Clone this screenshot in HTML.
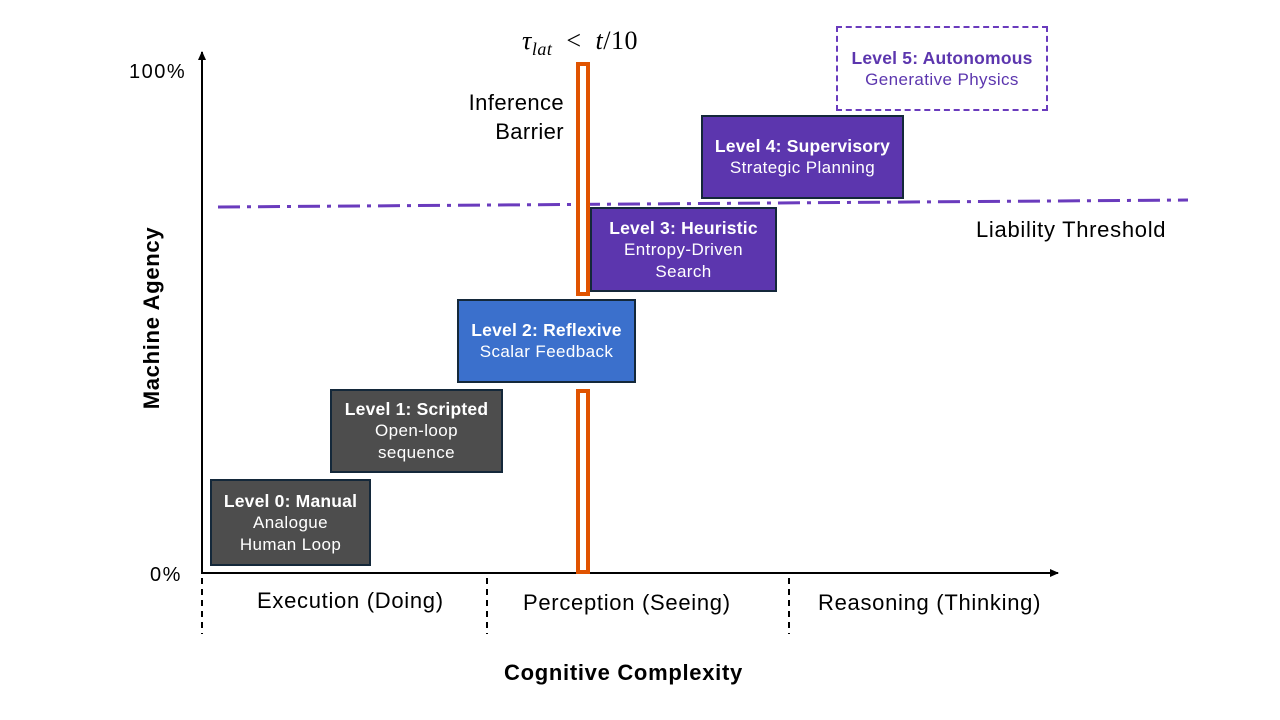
<!DOCTYPE html>
<html><head><meta charset="utf-8"><style>
body{margin:0;width:1280px;height:720px;background:#fff;position:relative;overflow:hidden;font-family:"Liberation Sans",Arial,sans-serif}
.b{position:absolute;box-sizing:border-box;border:2px solid #14283a;color:#fff;text-align:center;font-size:17px;line-height:22px;letter-spacing:0.4px;display:flex;flex-direction:column;justify-content:center;white-space:nowrap}
.b b{font-size:17.5px;letter-spacing:0.2px}
.t{position:absolute;font-size:22px;letter-spacing:0.7px;color:#000;white-space:nowrap}
</style></head><body>
<svg width="1280" height="720" style="position:absolute;left:0;top:0">
<defs><marker id="a" markerWidth="10" markerHeight="10" refX="8" refY="5" orient="auto" markerUnits="userSpaceOnUse"><path d="M0,1 L9,5 L0,9 Z" fill="#000"/></marker></defs>
<line x1="202" y1="574" x2="202" y2="52" stroke="#000" stroke-width="2" marker-end="url(#a)"/>
<line x1="201" y1="573" x2="1058" y2="573" stroke="#000" stroke-width="2" marker-end="url(#a)"/>
<g stroke="#000" stroke-width="2" stroke-dasharray="6,5">
<line x1="202" y1="578" x2="202" y2="634"/><line x1="487" y1="578" x2="487" y2="634"/><line x1="789" y1="578" x2="789" y2="634"/></g>
<line x1="218" y1="207" x2="1188" y2="200" stroke="#6a3bbd" stroke-width="3" stroke-dasharray="22,7,4,7"/>
</svg>
<div class="b" style="left:210px;top:479px;width:161px;height:87px;background:#4d4d4d"><b>Level 0: Manual</b>Analogue<br>Human Loop</div>
<div class="b" style="left:330px;top:389px;width:173px;height:84px;background:#4d4d4d"><b>Level 1: Scripted</b>Open-loop<br>sequence</div>
<div class="b" style="left:457px;top:299px;width:179px;height:84px;background:#3b70cc"><b>Level 2: Reflexive</b>Scalar Feedback</div>
<div class="b" style="left:590px;top:207px;width:187px;height:85px;background:#5c36ae"><b>Level 3: Heuristic</b>Entropy-Driven<br>Search</div>
<div class="b" style="left:701px;top:115px;width:203px;height:84px;background:#5c36ae"><b>Level 4: Supervisory</b>Strategic Planning</div>
<div class="b" style="left:836px;top:26px;width:212px;height:85px;background:#fff;border:2px dashed #6a3bbd;color:#5c36ae"><b>Level 5: Autonomous</b>Generative Physics</div>
<div style="position:absolute;left:576px;top:62px;width:14px;height:234px;box-sizing:border-box;border:4px solid #e05300;background:#fff"></div>
<div style="position:absolute;left:576px;top:389px;width:14px;height:185px;box-sizing:border-box;border:4px solid #e05300;background:#fff"></div>
<div class="t" style="left:129px;top:61px;font-size:20px;letter-spacing:1.5px">100%</div>
<div class="t" style="left:150px;top:564px;font-size:20px;letter-spacing:1.5px">0%</div>
<div class="t" style="right:716px;top:88px;text-align:right;line-height:29px;letter-spacing:0.4px">Inference<br>Barrier</div>
<div class="t" style="left:522px;top:26px;font-family:'Liberation Serif',serif;font-size:26px;letter-spacing:0.5px;font-style:italic">τ<sub style="font-size:18px">lat</sub> <span style="font-style:normal">&nbsp;&lt;&nbsp;</span> t<span style="font-style:normal">/10</span></div>
<div class="t" style="left:976px;top:217px">Liability Threshold</div>
<div class="t" style="left:257px;top:588px">Execution (Doing)</div>
<div class="t" style="left:523px;top:590px">Perception (Seeing)</div>
<div class="t" style="left:818px;top:590px">Reasoning (Thinking)</div>
<div class="t" style="left:504px;top:660px;font-weight:bold">Cognitive Complexity</div>
<div class="t" style="left:152px;top:318px;font-weight:bold;transform:translate(-50%,-50%) rotate(-90deg)">Machine Agency</div>
</body></html>
